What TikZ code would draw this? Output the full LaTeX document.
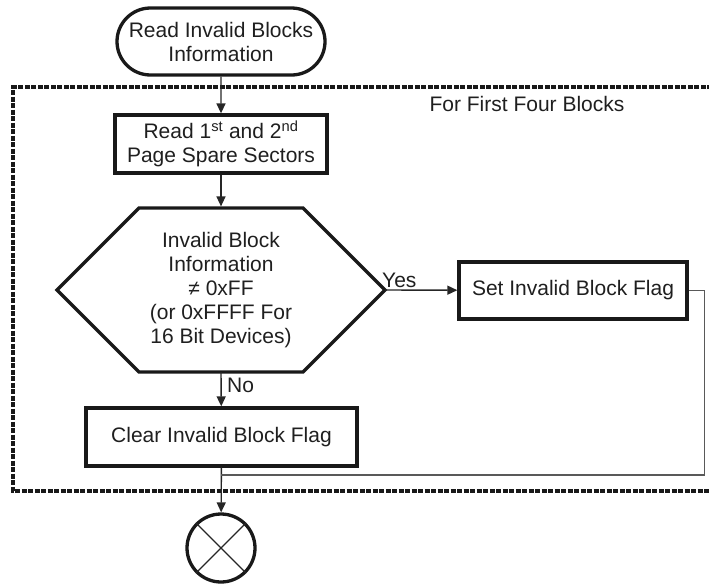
\documentclass[tikz,border=0pt]{standalone}
\usepackage{fontspec}
\setmainfont{Liberation Sans}
\usetikzlibrary{arrows.meta,shapes.misc}
\begin{document}
\begin{tikzpicture}[x=1pt,y=-1pt,
  font=\fontsize{21}{24}\selectfont,
  every node/.style={text=black!88},
  boxnode/.style={draw=black!90, line width=3.3pt, inner sep=0pt, align=center},
  conn/.style={draw=black!85, line width=1.4pt, -{Triangle[length=10pt,width=9pt]}},
  ret/.style={draw=black!65, line width=1.2pt},
  grpline/.style={draw=black!90, line width=3.3pt, dash pattern=on 5pt off 1.5pt}]
\useasboundingbox (0,0) rectangle (709,584);

% group frame (open on the right, clipped by the page)
\draw[grpline] (712,87) -- (13,87) -- (13,491) -- (712,491);
\node (grp) at (527,104) {For First Four Blocks};

% start terminal
\node[boxnode, rounded rectangle, minimum width=208pt, minimum height=67pt] (start) at (221,41.5) {Read Invalid Blocks\\Information};

% read spare sectors
\node[boxnode, minimum width=212pt, minimum height=58pt] (read) at (221,144) {Read 1\textsuperscript{st} and 2\textsuperscript{nd}\\Page Spare Sectors};

% decision hexagon
\node[align=center, inner sep=0pt] (dec) at (221,290) {Invalid Block\\Information\\≠ 0xFF\\(or 0xFFFF For\\16 Bit Devices)};
\draw[draw=black!90, line width=3.3pt, line join=miter] (57,290) -- (139,208) -- (303,208) -- (385,290) -- (303,372) -- (139,372) -- cycle;
\coordinate (decT) at (221,206.4);
\coordinate (decR) at (385,290);
\coordinate (decB) at (221,372);

% set flag
\node[boxnode, minimum width=228pt, minimum height=57pt] (set) at (573,290.5) {Set Invalid Block Flag};

% clear flag
\node[boxnode, minimum width=271pt, minimum height=58pt] (clear) at (221.5,437) {Clear Invalid Block Flag};

% end connector
\node[circle, draw=black!90, line width=3.3pt, minimum size=68pt, outer sep=1.65pt, inner sep=0pt] (end) at (221,548) {};
\draw[line width=1.1pt, draw=black!85] (end.north west) -- (end.south east);
\draw[line width=1.1pt, draw=black!85] (end.north east) -- (end.south west);

% connectors
\draw[conn] (start) -- (read);
\draw[conn] (read) -- (decT);
\draw[conn] (decR) -- (set);
\draw[conn] (decB) -- (clear);
\draw[conn] (clear) -- (end);

\coordinate (join) at (221,475);
\draw[ret] (set.east) -- ++(16,0) |- (join);

% labels
\node[anchor=south west, inner sep=0pt] (yes) at (382,288) {Yes};
\node[anchor=west, inner sep=0pt] (no) at (227,385) {No};
\end{tikzpicture}
\end{document}
